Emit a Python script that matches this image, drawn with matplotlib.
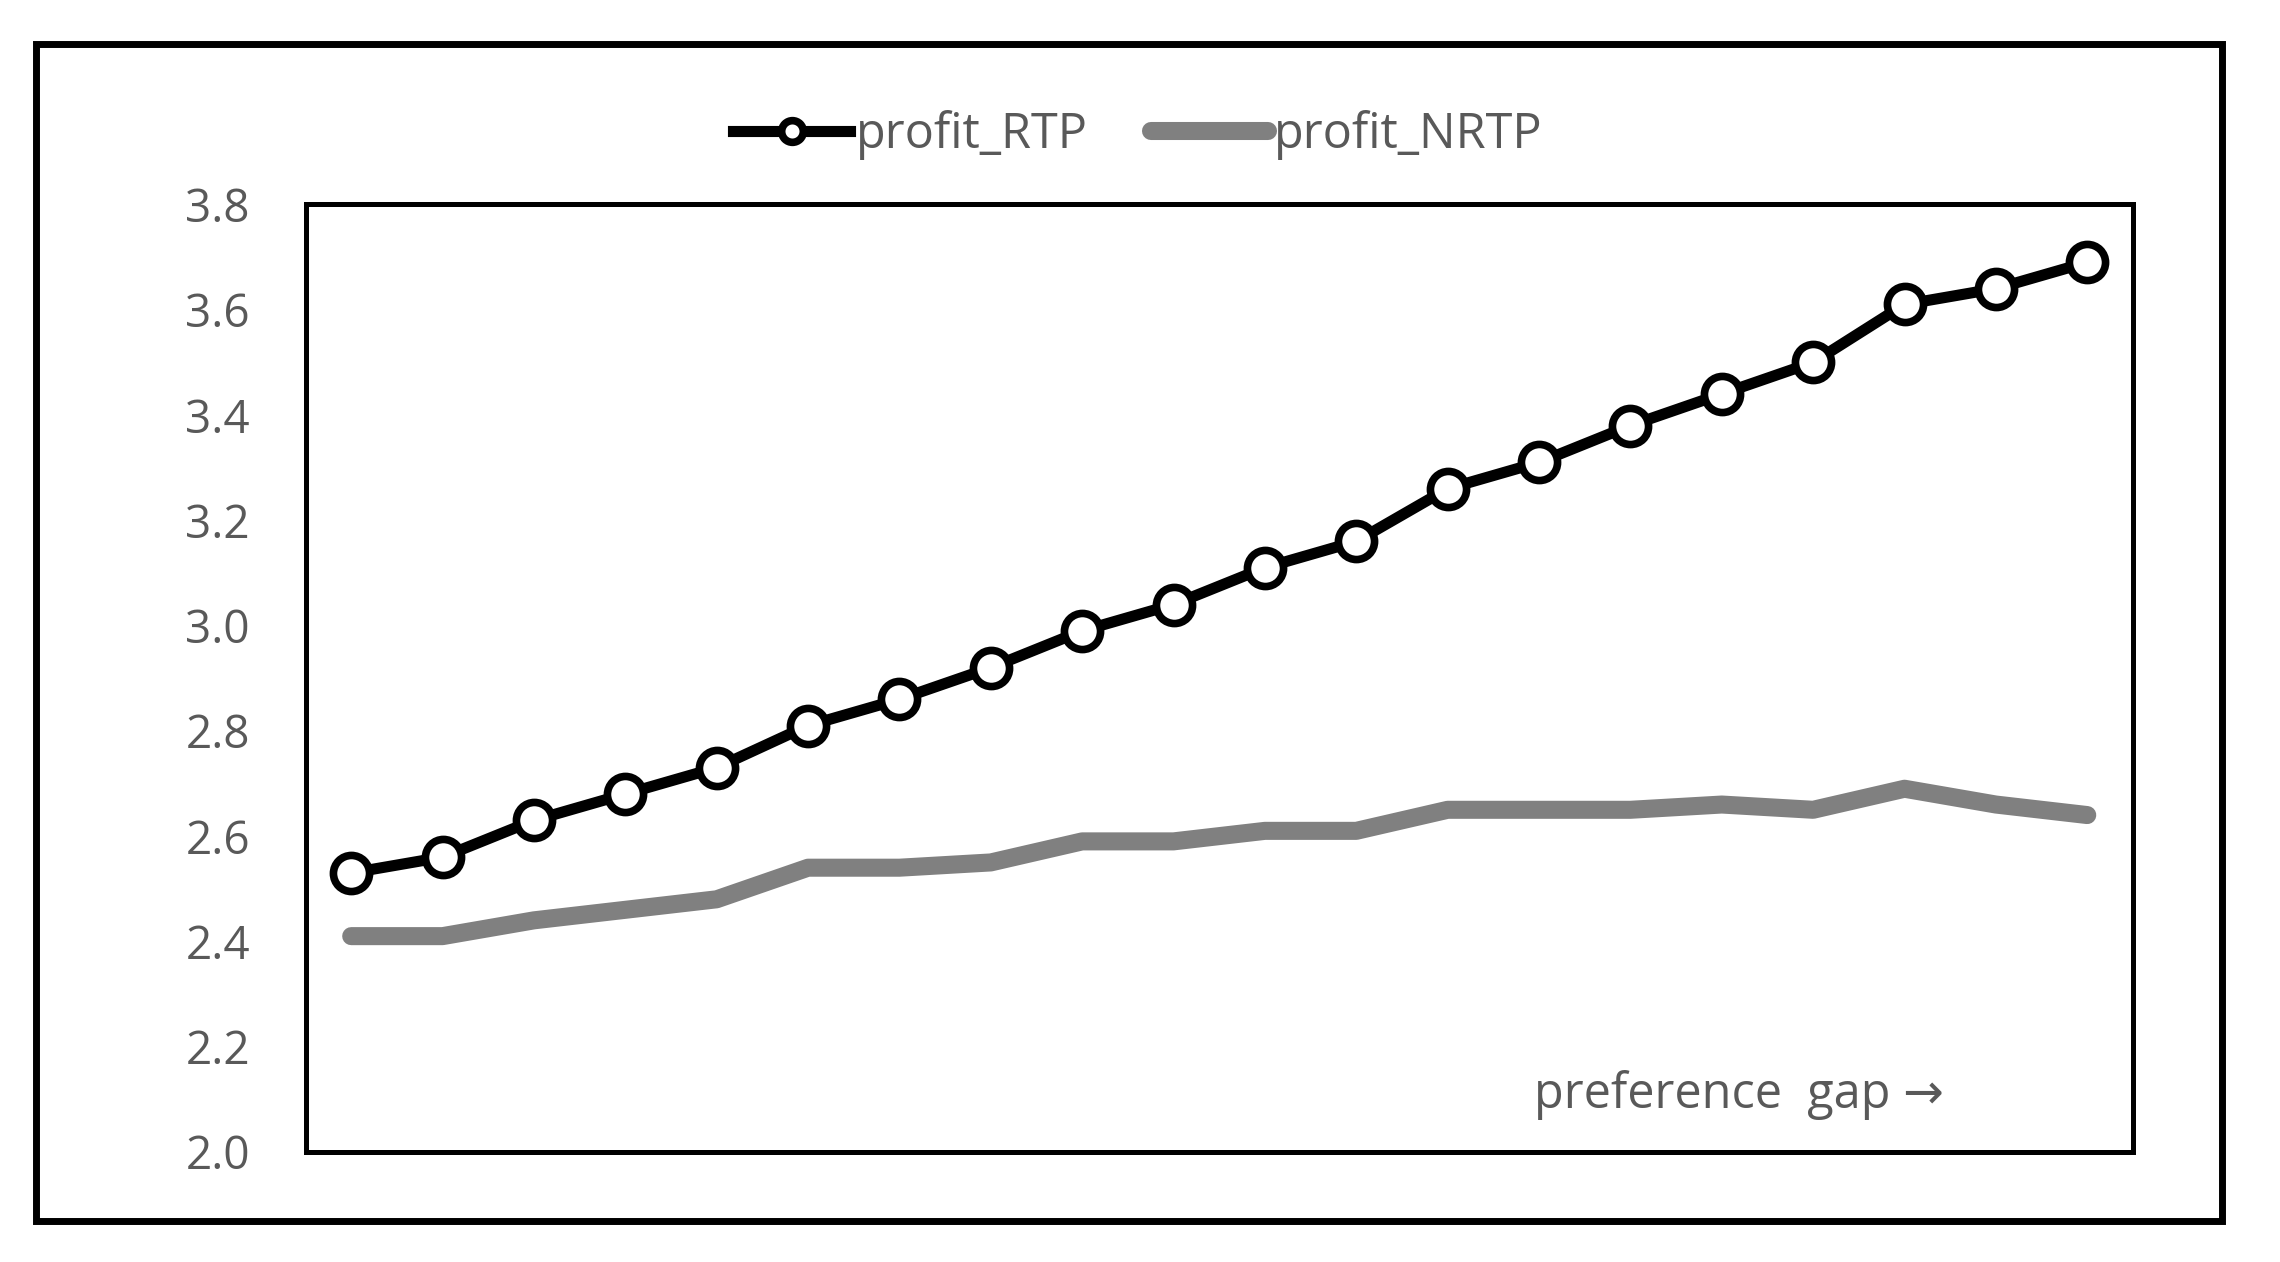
import numpy as np
import matplotlib
matplotlib.use('Agg')
import matplotlib.pyplot as plt
from matplotlib.patches import Rectangle

# values (20 steps of preference gap)
steps = list(range(20))
profit_RTP = [2.53, 2.56, 2.63, 2.68, 2.73, 2.81, 2.86, 2.92, 2.99, 3.04,
              3.11, 3.16, 3.26, 3.31, 3.38, 3.44, 3.50, 3.61, 3.64, 3.69]
profit_NRTP = [2.41, 2.41, 2.44, 2.46, 2.48, 2.54, 2.54, 2.55, 2.59, 2.59,
               2.61, 2.61, 2.65, 2.65, 2.65, 2.66, 2.65, 2.69, 2.66, 2.64]
yticks = [2.0, 2.2, 2.4, 2.6, 2.8, 3.0, 3.2, 3.4, 3.6, 3.8]

plt.rcParams['font.family'] = ['Open Sans', 'DejaVu Sans']
txtcol = '#595959'

fig = plt.figure(figsize=(22.8, 12.62), dpi=100)
ax = fig.add_axes([0.134, 0.0872, 0.8015, 0.7508])

ax.plot(steps, profit_RTP, color='black', lw=8, marker='o', ms=26,
        mfc='white', mec='black', mew=5.5, label='profit_RTP',
        solid_joinstyle='round', zorder=3)
ax.plot(steps, profit_NRTP, color='#808080', lw=13, label='profit_NRTP',
        solid_capstyle='round', solid_joinstyle='round', zorder=2)

ax.set_xlim(-0.5, 19.5)
ax.set_ylim(2.0, 3.8)
ax.set_xticks([])
ax.set_yticks(yticks)
ax.set_yticklabels(['%.1f' % t for t in yticks], fontsize=33, color=txtcol)
ax.tick_params(axis='y', length=0, pad=40)
for s in ax.spines.values():
    s.set_linewidth(3.6)
    s.set_color('black')

ax.text(0.672, 0.06, 'preference  gap \u2192', transform=ax.transAxes,
        fontsize=35, color=txtcol, ha='left', va='center')

leg = fig.legend(loc='center', bbox_to_anchor=(0.499, 0.893), ncol=2,
                 frameon=False, fontsize=35, handlelength=2.4,
                 columnspacing=1.3, handletextpad=0.12, markerscale=0.6)
for t in leg.get_texts():
    t.set_color(txtcol)

# outer chart frame
fig.patches.append(Rectangle((0.0158, 0.0325), 0.9588, 0.9325,
                             transform=fig.transFigure, fill=False,
                             lw=5, edgecolor='black'))

fig.savefig('out.png', dpi=100, facecolor='white')
